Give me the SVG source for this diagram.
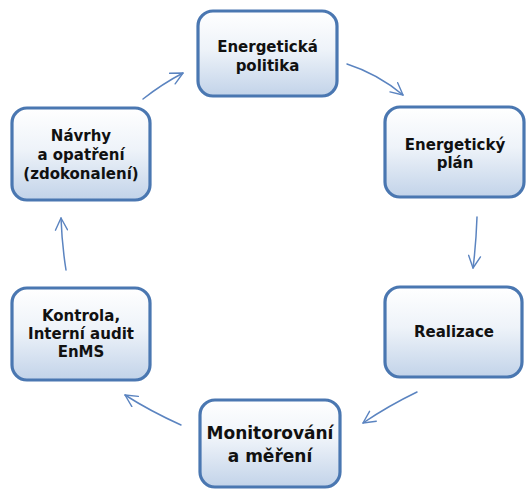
<svg xmlns="http://www.w3.org/2000/svg" width="527" height="490" viewBox="0 0 527 490">
<defs>
<linearGradient id="g" x1="0" y1="0" x2="0" y2="1">
<stop offset="0" stop-color="#ffffff"/>
<stop offset="0.45" stop-color="#eef3f9"/>
<stop offset="1" stop-color="#c2d3e9"/>
</linearGradient>
<marker id="ah" viewBox="0 0 14 14" refX="13" refY="7" markerWidth="14" markerHeight="14" markerUnits="userSpaceOnUse" orient="auto">
<path d="M1,1 L13,7 L1,13" fill="none" stroke="#5b84c0" stroke-width="1.4" stroke-linecap="round" stroke-linejoin="round"/>
</marker>
</defs>
<style>
.box{fill:url(#g);stroke:#4a77b1;stroke-width:3.2}
.t{font-family:"DejaVu Sans",Verdana,sans-serif;font-weight:bold;font-size:15px;fill:#111;text-anchor:middle}
.big{font-size:17px}
.c{fill:none;stroke:#5b84c0;stroke-width:1.5;stroke-linecap:round;marker-end:url(#ah)}
</style>
<rect width="527" height="490" fill="#ffffff"/>
<g id="connectors">
<path class="c" d="M143,99 Q162,84 183,73"/>
<path class="c" d="M347,64 Q378,74 403,95"/>
<path class="c" d="M477,217 Q476,245 473,268"/>
<path class="c" d="M417,392 Q388,406 363,423"/>
<path class="c" d="M181,425 Q150,411 125,395"/>
<path class="c" d="M66,270 Q62,245 61,218"/>
</g>
<g id="n1">
<rect class="box" x="198" y="11" width="139" height="85" rx="15"/>
<text class="t" x="267.5" y="52">Energetická</text>
<text class="t" x="267.5" y="71">politika</text>
</g>
<g id="n2">
<rect class="box" x="385" y="107" width="139" height="90" rx="15"/>
<text class="t" x="455" y="150">Energetický</text>
<text class="t" x="455" y="168">plán</text>
</g>
<g id="n3">
<rect class="box" x="385" y="287" width="137" height="90" rx="15"/>
<text class="t" x="454" y="337">Realizace</text>
</g>
<g id="n4">
<rect class="box" x="200" y="400" width="140" height="87" rx="15"/>
<text class="t big" x="270" y="439">Monitorování</text>
<text class="t big" x="270" y="462">a měření</text>
</g>
<g id="n5">
<rect class="box" x="12" y="288" width="138" height="92" rx="15"/>
<text class="t" x="81" y="321">Kontrola,</text>
<text class="t" x="81" y="339">Interní audit</text>
<text class="t" x="81" y="357">EnMS</text>
</g>
<g id="n6">
<rect class="box" x="12" y="108" width="138" height="92" rx="15"/>
<text class="t" x="81" y="141">Návrhy</text>
<text class="t" x="81" y="160">a opatření</text>
<text class="t" x="81" y="179">(zdokonalení)</text>
</g>
</svg>
